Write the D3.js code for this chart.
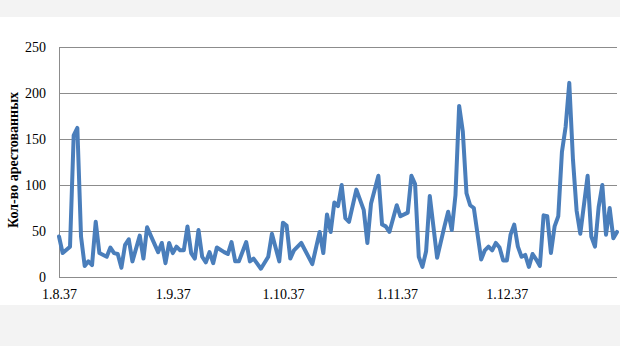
<!DOCTYPE html>
<html>
<head>
<meta charset="utf-8">
<script src="https://cdn.jsdelivr.net/npm/d3@7"></script>
<style>
  body { margin: 0; background: #f3f3f3; }
  .grid line { stroke: #8c8c8c; stroke-width: 1; }
  .tick text { font-family: "Liberation Serif", "DejaVu Serif", serif; font-size: 14px; fill: #000; }
  .line { fill: none; stroke: #4a7ebb; stroke-width: 4; stroke-linejoin: round; stroke-linecap: round; }
</style>
</head>
<body>
<div id="graph"></div>
<script>
// arrests per day, Aug - Dec 1937
var dates = [
  "1937-08-01","1937-08-02","1937-08-04","1937-08-05","1937-08-06","1937-08-07","1937-08-08","1937-08-09",
  "1937-08-10","1937-08-11","1937-08-12","1937-08-14","1937-08-15","1937-08-16","1937-08-17","1937-08-18",
  "1937-08-19","1937-08-20","1937-08-21","1937-08-23","1937-08-24","1937-08-25","1937-08-28","1937-08-29",
  "1937-08-30","1937-08-31",
  "1937-09-01","1937-09-02","1937-09-03","1937-09-04","1937-09-05","1937-09-06","1937-09-07","1937-09-08",
  "1937-09-09","1937-09-10","1937-09-11","1937-09-12","1937-09-13","1937-09-15","1937-09-16","1937-09-17",
  "1937-09-18","1937-09-19","1937-09-21","1937-09-22","1937-09-23","1937-09-25","1937-09-27","1937-09-28",
  "1937-09-30",
  "1937-10-01","1937-10-02","1937-10-03","1937-10-04","1937-10-06","1937-10-09","1937-10-11","1937-10-12",
  "1937-10-13","1937-10-14","1937-10-15","1937-10-16","1937-10-17","1937-10-18","1937-10-19","1937-10-21",
  "1937-10-23","1937-10-24","1937-10-25","1937-10-27","1937-10-28","1937-10-29","1937-10-30",
  "1937-11-01","1937-11-02","1937-11-04","1937-11-05","1937-11-06","1937-11-07","1937-11-08","1937-11-09",
  "1937-11-10","1937-11-12","1937-11-14","1937-11-15","1937-11-16","1937-11-17","1937-11-18","1937-11-19",
  "1937-11-20","1937-11-21","1937-11-22","1937-11-24","1937-11-25","1937-11-26","1937-11-27","1937-11-28",
  "1937-11-29","1937-11-30",
  "1937-12-01","1937-12-02","1937-12-03","1937-12-04","1937-12-05","1937-12-06","1937-12-07","1937-12-08",
  "1937-12-09","1937-12-10","1937-12-11","1937-12-12","1937-12-13","1937-12-14","1937-12-15","1937-12-16",
  "1937-12-17","1937-12-18","1937-12-19","1937-12-20","1937-12-21","1937-12-23","1937-12-24","1937-12-25",
  "1937-12-26","1937-12-27","1937-12-28","1937-12-29","1937-12-30","1937-12-31"
];
var arrests = [
  44, 26, 33, 154, 162, 44, 12, 17,
  13, 60, 26, 22, 32, 26, 25, 10,
  35, 41, 17, 45, 20, 54, 27, 37,
  15, 37,
  26, 33, 29, 29, 55, 26, 20, 51,
  22, 16, 27, 15, 32, 27, 25, 38,
  17, 17, 38, 17, 20, 9, 22, 47,
  17,
  59, 56, 20, 29, 37, 14, 49, 26,
  68, 49, 81, 77, 100, 64, 60, 95,
  73, 37, 80, 110, 57, 55, 49,
  78, 66, 70, 110, 101, 22, 11, 28,
  88, 21, 55, 71, 51, 89, 186, 158,
  91, 78, 75, 19, 29, 33, 29, 37,
  32, 18,
  18, 46, 57, 33, 22, 24, 11, 25,
  19, 12, 67, 66, 26, 55, 66, 136,
  163, 211, 128, 72, 47, 110, 44, 33,
  76, 100, 46, 75, 42, 49
];
var tickDates = ["1937-08-01", "1937-09-01", "1937-10-01", "1937-11-01", "1937-12-01"];
var tickLabels = ["1.8.37", "1.9.37", "1.10.37", "1.11.37", "1.12.37"];
var yTicks = [0, 50, 100, 150, 200, 250];
var yTitle = "Кол-во арестованных";

var W = 620, H = 346;
var margin = {top: 47, right: 3, bottom: 69, left: 59},
    width = W - margin.left - margin.right,
    height = H - margin.top - margin.bottom;

var parseTime = d3.timeParse("%Y-%m-%d");

var data = dates.map(function(d, i) {
  return { date: parseTime(d), value: arrests[i] };
});

var x = d3.scaleTime()
    .domain([parseTime("1937-08-01"), parseTime("1937-12-31")])
    .range([0, width]);
var y = d3.scaleLinear().domain([0, 250]).range([height, 0]);

var svg = d3.select("#graph").append("svg")
    .attr("width", W)
    .attr("height", H);

// white chart panel
svg.append("rect")
    .attr("x", 0).attr("y", 17)
    .attr("width", W).attr("height", 288)
    .attr("fill", "#fff");

var g = svg.append("g")
    .attr("transform", "translate(" + margin.left + "," + margin.top + ")");

// horizontal gridlines
g.append("g")
    .attr("class", "grid")
    .selectAll("line")
    .data(yTicks)
  .enter().append("line")
    .attr("x1", 0).attr("x2", width)
    .attr("y1", function(d) { return Math.round(y(d)) + 0.5; })
    .attr("y2", function(d) { return Math.round(y(d)) + 0.5; });

// left axis line
g.append("line")
    .attr("x1", 0.5).attr("x2", 0.5)
    .attr("y1", 0).attr("y2", height)
    .attr("stroke", "#8c8c8c");

// y axis labels
var yAxis = g.append("g")
    .call(d3.axisLeft(y).tickValues(yTicks).tickSize(0).tickPadding(13));
yAxis.select(".domain").remove();

// x axis labels
var xAxis = g.append("g")
    .attr("transform", "translate(0," + height + ")")
    .call(d3.axisBottom(x)
      .tickValues(tickDates.map(parseTime))
      .tickFormat(function(d, i) { return tickLabels[i]; })
      .tickSize(0).tickPadding(12));
xAxis.select(".domain").remove();

// the line
var valueline = d3.line()
    .x(function(d) { return x(d.date); })
    .y(function(d) { return y(d.value); });

g.append("path")
    .datum(data)
    .attr("class", "line")
    .attr("d", valueline);

// y title
svg.append("text")
    .attr("transform", "translate(18," + (margin.top + height / 2 - 2) + ") rotate(-90)")
    .attr("text-anchor", "middle")
    .attr("font-family", "Liberation Serif, serif")
    .attr("font-size", 14)
    .attr("font-weight", "bold")
    .text(yTitle);
</script>
</body>
</html>
